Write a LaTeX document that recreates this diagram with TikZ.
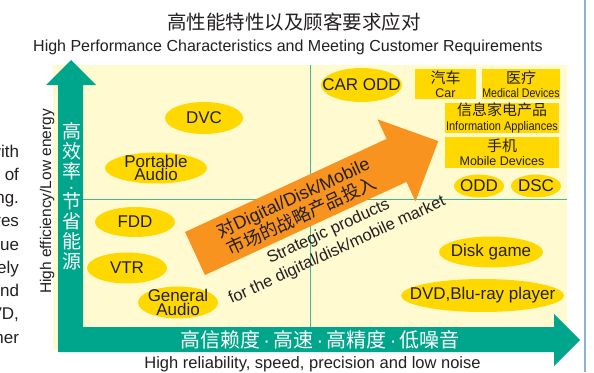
\documentclass[tikz,border=0pt]{standalone}
\usepackage{fontspec}
\usepackage{graphicx}
\setmainfont{Liberation Sans}
\newfontfamily\cjk{Noto Sans CJK SC}
\usepackage{tikz}
\usetikzlibrary{shapes}

\definecolor{panelYellow}{HTML}{FFFAD0}
\definecolor{ovalYellow}{HTML}{FFD800}
\definecolor{axisGreen}{HTML}{00A68B}
\definecolor{gridGreen}{HTML}{45B596}
\definecolor{arrowOrange}{HTML}{F7931E}
\definecolor{textDark}{HTML}{231F20}
\definecolor{pageBlue}{HTML}{8DB0DC}

\newcommand{\boxzh}[1]{{\cjk\fontsize{15}{15}\selectfont #1}}
\newcommand{\zhdot}{{\rmfamily\,·\,}}

\begin{document}
\begin{tikzpicture}
		[
			x=1pt, y=-1pt,
			styleOval/.style={ellipse, fill=ovalYellow, inner sep=0pt,
				label={[styleOvalText]center:#1}},
			styleOvalText/.style={align=center, text=textDark, inner sep=0pt,
				font=\fontsize{17}{13.5}\selectfont},
			styleBox/.style={fill=ovalYellow, inner sep=0pt, align=center, text=textDark,
				font=\fontsize{12.5}{14.5}\selectfont},
			styleText/.style={text=textDark, align=center, font=\fontsize{16.5}{20}\selectfont},
			styleWhite/.style={text=white, align=center, font=\cjk\fontsize{20}{20}\selectfont},
			stylePage/.style={anchor=base east, text=textDark, font=\fontsize{17}{17}\selectfont},
		]
		\useasboundingbox (0,0) rectangle (594,372);

		% background and quadrants
		\fill[panelYellow] (53,65) rectangle (567,350);
		\draw[gridGreen, line width=0.8pt] (310,65) -- (310,327);
		\draw[gridGreen, line width=0.8pt] (83,199) -- (567,199);
		\draw[pageBlue, line width=1.2pt] (585,0) -- (585,372);

		\node(title)[styleText, font=\cjk\fontsize{19.5}{20}\selectfont] at (294,22) {高性能特性以及顾客要求应对};
		\node(subtitle)[styleText, font=\fontsize{16}{16}\selectfont] at (288,47) {High Performance Characteristics and Meeting Customer Requirements};

		\node(dvc)[styleOval=DVC, minimum width=78, minimum height=32] at (204,118) {};
		\node(portable)[styleOval={Portable\\Audio}, minimum width=102, minimum height=31] at (156,168) {};
		\node(fdd)[styleOval=FDD, minimum width=80, minimum height=30] at (135,222) {};
		\node(vtr)[styleOval=VTR, minimum width=80, minimum height=31] at (127,268) {};
		\node(general)[styleOval={General\\Audio}, minimum width=80, minimum height=32] at (178,302.5) {};
		\node(carodd)[styleOval={CAR ODD}, minimum width=81, minimum height=34] at (361.5,85) {};
		\node(odd)[styleOval=ODD, minimum width=50, minimum height=23] at (479,186) {};
		\node(dsc)[styleOval=DSC, minimum width=50, minimum height=23] at (536,186) {};
		\node(disk)[styleOval={Disk game}, minimum width=104, minimum height=31] at (491,252) {};
		\node(dvd)[styleOval={DVD,Blu-ray player}, minimum width=163, minimum height=33] at (482.5,295.5) {};

		\node(car)[styleBox, minimum width=61, minimum height=30] at (445.5,84) {\boxzh{汽车}\\Car};
		\node(medical)[styleBox, minimum width=76, minimum height=30] at (521,84) {\boxzh{医疗}\\\scalebox{0.85}[1]{Medical Devices}};
		\node(info)[styleBox, minimum width=114, minimum height=30] at (502,118) {\boxzh{信息家电产品}\\\scalebox{0.88}[1]{Information Appliances}};
		\node(mobile)[styleBox, minimum width=114, minimum height=31] at (502,152.5) {\boxzh{手机}\\Mobile Devices};

		\begin{scope}[shift={(195,253.5)}, rotate=24.8]
			\fill[arrowOrange] (0,-23.7) -- (222,-23.7) -- (222,-45.2) -- (268,0)
				-- (222,45.2) -- (222,23.7) -- (0,23.7) -- cycle;
		\end{scope}
		\node(push)[styleText, rotate=24.8, font=\fontsize{18}{20}\selectfont]
			at (297.2,206.5) {{\cjk 对}Digital/Disk/Mobile\\{\cjk 市场的战略产品投入}};
		\node(pushEn)[styleText, rotate=24.8, font=\fontsize{16.5}{20.5}\selectfont]
			at (332.9,241.2) {Strategic products\\for the digital/disk/mobile market};

		% axes
		\fill[axisGreen] (58,352) -- (58,85) -- (46,85) -- (71,60) -- (96,85) -- (83,85)
			-- (83,327) -- (554,327) -- (554,314) -- (580,340) -- (554,366) -- (554,352) -- cycle;
		\node(effCn)[styleWhite, font=\cjk\fontsize{19}{20}\selectfont] at (71.5,196.5)
			{高\\效\\率\\[-5pt]{\rmfamily ·}\\[-5pt]节\\省\\能\\源};
		\node(effEn)[styleText, rotate=90, font=\fontsize{15.5}{16}\selectfont] at (47,201.5) {High efficiency/Low energy};
		\node(relCn)[styleWhite] at (320,339.5) {高信赖度\zhdot 高速\zhdot 高精度\zhdot 低噪音};
		\node(relEn)[styleText, anchor=base] at (312.5,368) {High reliability, speed, precision and low noise};

		% text of the page
		\node(page0)[stylePage] at (22.5,157) {with};
		\node(page1)[stylePage] at (22.5,180.25) {of};
		\node(page2)[stylePage] at (22.5,203.5) {ng.};
		\node(page3)[stylePage] at (22.5,226.75) {res};
		\node(page4)[stylePage] at (22.5,250) {ue};
		\node(page5)[stylePage] at (22.5,273.25) {ely};
		\node(page6)[stylePage] at (22.5,296.5) {nd};
		\node(page7)[stylePage] at (22.5,319.75) {VD,};
		\node(page8)[stylePage] at (22.5,343) {her};
	\end{tikzpicture}
\end{document}
